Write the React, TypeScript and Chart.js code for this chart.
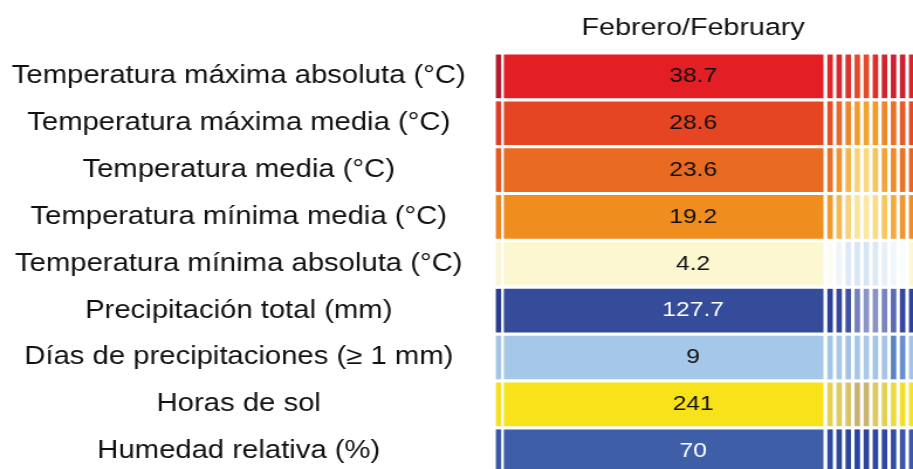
import { useEffect, useRef } from "react";
import { Chart, registerables } from "chart.js";

Chart.register(...registerables);

// ---------- data ----------
const rowLabels = [
  "Temperatura máxima absoluta (°C)",
  "Temperatura máxima media (°C)",
  "Temperatura media (°C)",
  "Temperatura mínima media (°C)",
  "Temperatura mínima absoluta (°C)",
  "Precipitación total (mm)",
  "Días de precipitaciones (≥ 1 mm)",
  "Horas de sol",
  "Humedad relativa (%)",
];

const februaryValues = [38.7, 28.6, 23.6, 19.2, 4.2, 127.7, 9, 241, 70];

const headerText = "Febrero/February";

const monthNames = [
  "Enero", "Febrero", "Marzo", "Abril", "Mayo", "Junio",
  "Julio", "Agosto", "Septiembre", "Octubre", "Noviembre", "Diciembre",
];

// ---------- colours (style) ----------
const januaryColors = ["#b2192d", "#e03b27", "#e45826", "#ed8421", "#fbf6d6", "#283c8e", "#a4c5e6", "#f6e01f", "#3957a4"];
const februaryColors = ["#e31e25", "#e54522", "#e96a21", "#ef8d1f", "#fcf7d0", "#354c9b", "#a6c8e8", "#f8e21a", "#3e5ea8"];
// collapsed columns, March … December, one list per row
const stripeColorsByRow = [
  ["#e1262b", "#d9292e", "#e0302c", "#e3482a", "#e24c2a", "#dd2e2c", "#d0242f", "#cc2030", "#ce2130", "#d8252d"],
  ["#e3502a", "#e8672a", "#ec862b", "#f09d2e", "#f1a431", "#f09a2c", "#ec8829", "#ea7128", "#e65b26", "#e44b24"],
  ["#e9712a", "#ef932f", "#f4b44c", "#f8d27a", "#f9d982", "#f6c45e", "#f2a43b", "#ee8b2d", "#ea7327", "#e86523"],
  ["#f19a2d", "#f5b74f", "#f8d27b", "#fae59c", "#fbe9a3", "#f9dc87", "#f6c761", "#f2a93d", "#f09731", "#ee8c27"],
  ["#fdfcf3", "#eef5fb", "#dde9f6", "#d6e6f5", "#d4e5f5", "#dbe9f6", "#e6f0f9", "#f1f6fb", "#fbfcfd", "#fcf6d4"],
  ["#2c409a", "#33479e", "#3c51a3", "#7481bd", "#8a95c7", "#8893c6", "#7784bf", "#5a6bb1", "#33489f", "#2e439c"],
  ["#a4c5e6", "#a8c8e8", "#a2c3e5", "#a6c6e7", "#a9c9e8", "#a3c4e6", "#a5c5e6", "#5f84c4", "#6d8fcb", "#a3c4e6"],
  ["#e6d152", "#dfca5c", "#d8c366", "#c7b376", "#c9b470", "#dbc95e", "#e3d052", "#ecda3e", "#f4df28", "#f5e02a"],
  ["#2f4a9f", "#2d479d", "#2c469c", "#2b449b", "#2d469c", "#2f489d", "#30499e", "#344ea1", "#3a56a5", "#3c58a6"],
];
const valueTextColors = ["#111", "#111", "#111", "#111", "#111", "#fff", "#111", "#111", "#fff"];

// ---------- layout ----------
const PAGE_W = 913;
const PAGE_H = 469;
const STRETCH = 1.17; // reference is horizontally stretched
const CANVAS_W = Math.round(PAGE_W / STRETCH);
const PLOT_LEFT = 496; // page px
const ROW_PITCH = 46.86;
const FIRST_ROW_CENTER = 76.35;
const BAR_THICKNESS = 43;
const JAN_SPAN = [0, 4.6];
const FEB_SPAN = [8, 327];
const STRIPE_START = 331.7;
const STRIPE_STEP = 9.07;
const STRIPE_WIDTH = 4.7;
const X_MAX = PAGE_W - PLOT_LEFT;
const TEXT_CENTER_X = 197; // header and cell values share this centre
const HEADER_BASELINE = 35;
const FONT = "'Liberation Sans', Arial, Helvetica, sans-serif";
const Y_MIN = -FIRST_ROW_CENTER / ROW_PITCH;
const Y_MAX = Y_MIN + PAGE_H / ROW_PITCH;

const cellText = {
  id: "cellText",
  afterDatasetsDraw(chart: any) {
    const ctx = chart.ctx as CanvasRenderingContext2D;
    const meta = chart.getDatasetMeta(1);
    const xs = chart.scales.x;
    const cx = xs.getPixelForValue(TEXT_CENTER_X);
    ctx.save();
    ctx.font = `21px ${FONT}`;
    ctx.textAlign = "center";
    ctx.textBaseline = "middle";
    meta.data.forEach((bar: any, i: number) => {
      const p = bar.getCenterPoint();
      ctx.fillStyle = valueTextColors[i];
      ctx.fillText(String(februaryValues[i]), cx, p.y);
    });
    ctx.font = `24.5px ${FONT}`;
    ctx.fillStyle = "#111";
    ctx.textBaseline = "alphabetic";
    ctx.fillText(headerText, cx, HEADER_BASELINE);
    ctx.restore();
  },
};

export default function App() {
  const ref = useRef<HTMLCanvasElement>(null);

  useEffect(() => {
    const canvas = ref.current;
    if (!canvas) return;
    const common = { grouped: false, barThickness: BAR_THICKNESS, borderWidth: 0, clip: false };
    const datasets: any[] = [
      {
        label: monthNames[0],
        data: rowLabels.map((_, i) => ({ x: JAN_SPAN, y: i })),
        backgroundColor: januaryColors,
        ...common,
      },
      {
        label: monthNames[1],
        data: rowLabels.map((_, i) => ({ x: FEB_SPAN, y: i })),
        backgroundColor: februaryColors,
        ...common,
      },
      ...monthNames.slice(2).map((m, k) => ({
        label: m,
        data: rowLabels.map((_, i) => ({
          x: [STRIPE_START + k * STRIPE_STEP, STRIPE_START + k * STRIPE_STEP + STRIPE_WIDTH],
          y: i,
        })),
        backgroundColor: stripeColorsByRow.map((r) => r[k]),
        ...common,
      })),
    ];

    const chart = new Chart(canvas, {
      type: "bar",
      data: { datasets },
      options: {
        indexAxis: "y",
        animation: false,
        responsive: false,
        devicePixelRatio: 1,
        events: [],
        layout: { padding: 0 },
        plugins: { legend: { display: false }, tooltip: { enabled: false }, title: { display: false } },
        scales: {
          x: { type: "linear", min: 0, max: X_MAX, display: false, offset: false },
          y: {
            type: "linear",
            reverse: true,
            offset: false,
            min: Y_MIN,
            max: Y_MAX,
            grid: { display: false, drawTicks: false, offset: false },
            border: { display: false },
            afterBuildTicks: (axis: any) => {
              axis.ticks = rowLabels.map((_, i) => ({ value: i }));
            },
            afterFit: (axis: any) => {
              axis.width = PLOT_LEFT / STRETCH;
              axis.paddingTop = 0;
              axis.paddingBottom = 0;
            },
            ticks: {
              autoSkip: false,
              crossAlign: "center",
              padding: 26,
              color: "#111",
              font: { family: FONT, size: 25 },
              callback: (v: any) => rowLabels[v as number] ?? "",
            },
          },
        },
      } as any,
      plugins: [cellText],
    });
    return () => chart.destroy();
  }, []);

  return (
    <div style={{ position: "fixed", left: 0, top: 0, width: PAGE_W, height: PAGE_H, background: "#fff", overflow: "hidden" }}>
      <canvas
        ref={ref}
        width={CANVAS_W}
        height={PAGE_H}
        style={{ display: "block", width: `${PAGE_W}px`, height: `${PAGE_H}px` }}
      />
    </div>
  );
}
